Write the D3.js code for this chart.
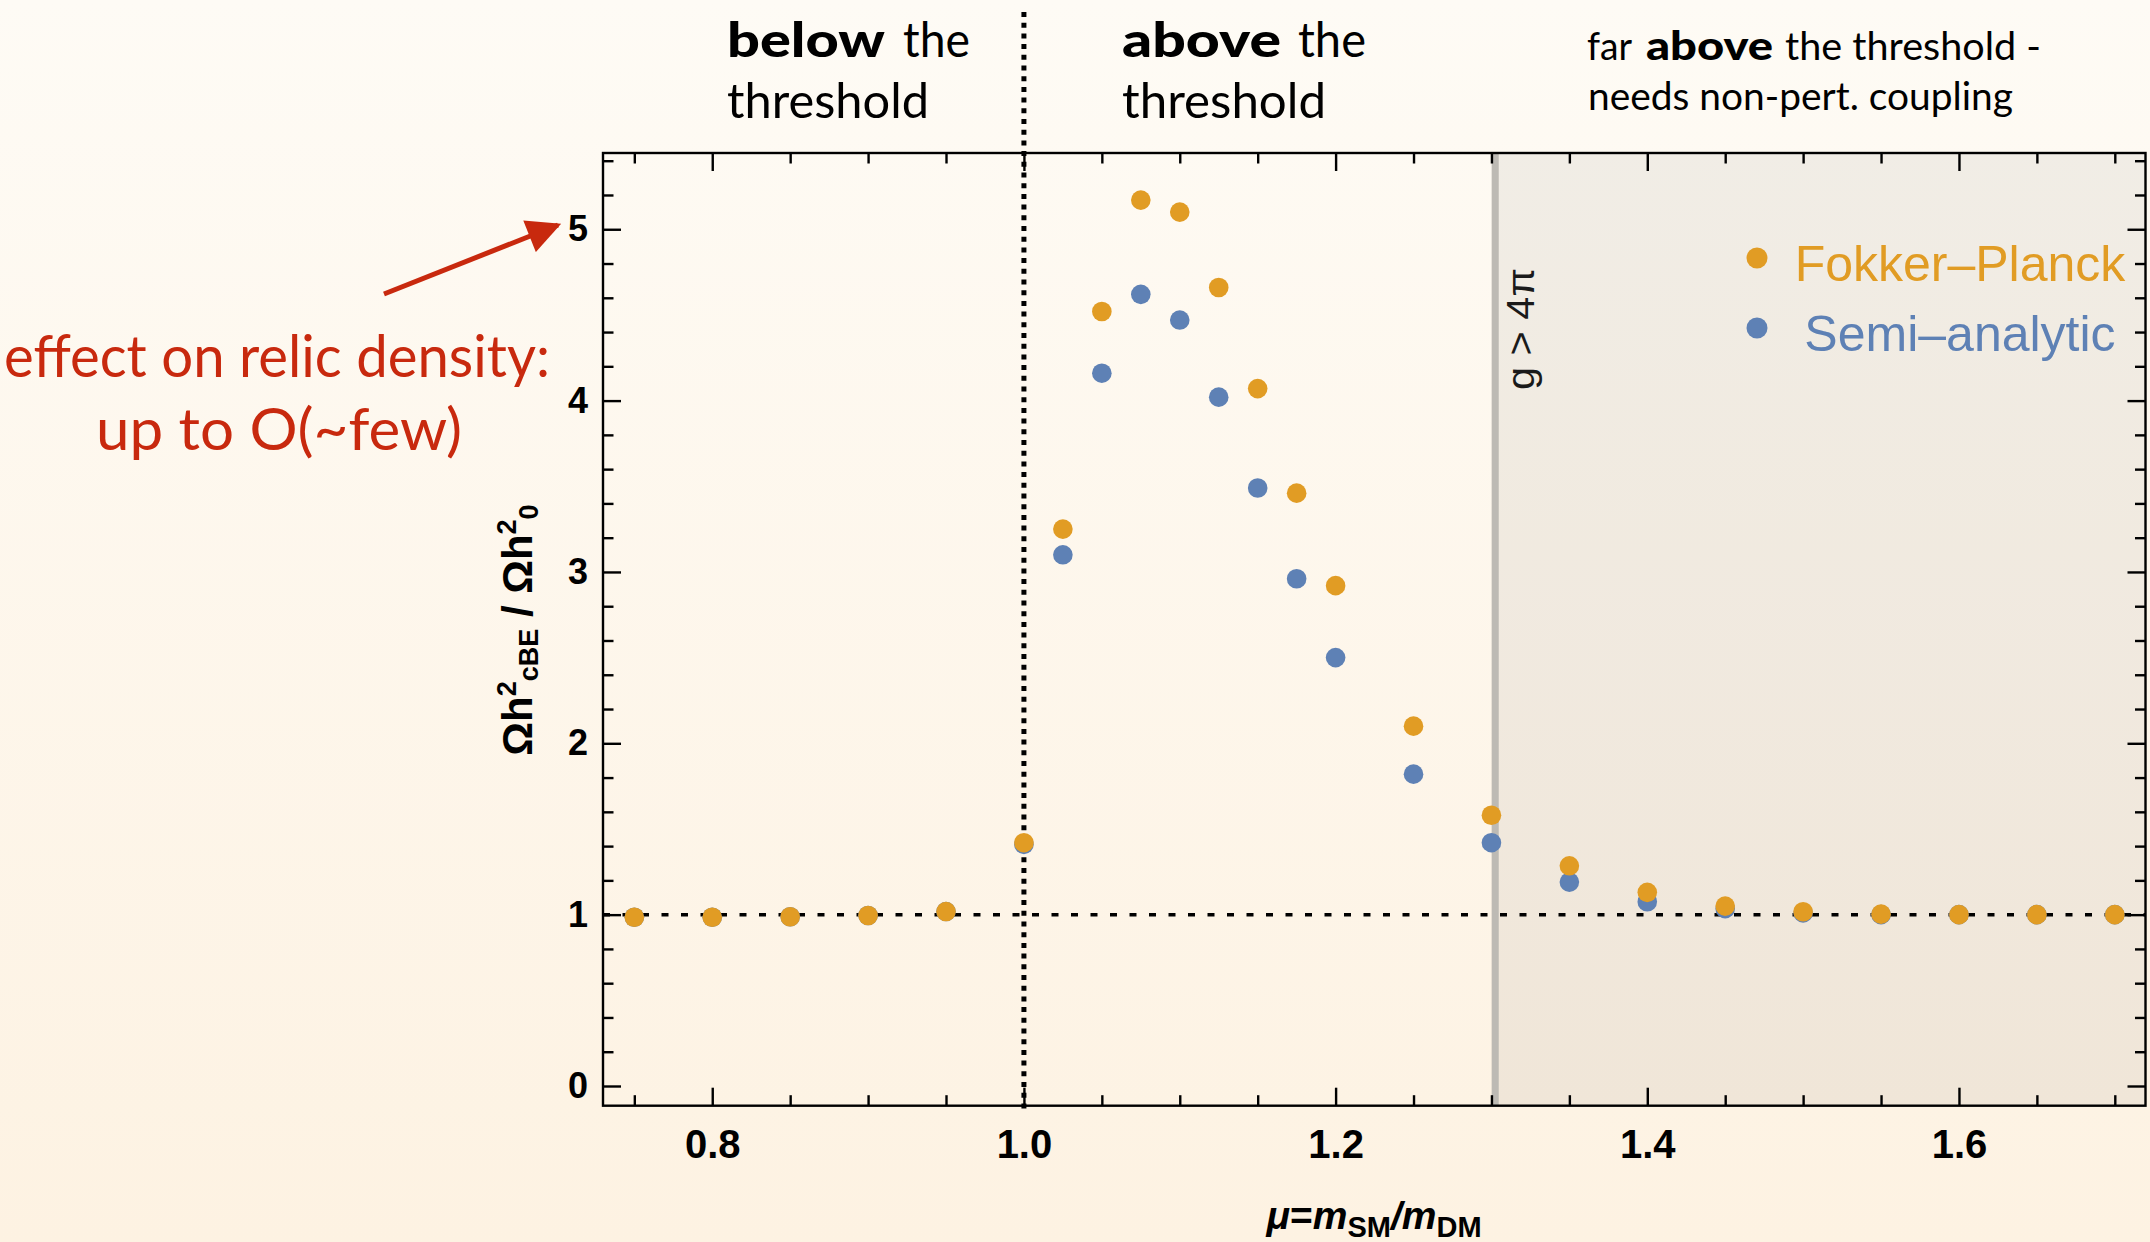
<!DOCTYPE html>
<html>
<head>
<meta charset="utf-8">
<script src="https://cdn.jsdelivr.net/npm/d3@7"></script>
<style>
  body { margin: 0; background: #fdf7ec; }
  svg { display: block; }
</style>
</head>
<body>
<div id="chart"></div>
<script>
// Canvas and plot frame
const width = 2150;
const height = 1242;
const plot = { left: 603, right: 2145.5, top: 153, bottom: 1105.7 };

// Axis ranges (Mathematica frame with ~2% padding)
const X_DOMAIN = [0.7299, 1.7197];
const Y_DOMAIN = [-0.115, 5.445];

// Data: mu = m_SM / m_DM and the relic density ratio for both methods
const muValues = [0.75, 0.8, 0.85, 0.9, 0.95, 1.0, 1.025, 1.05, 1.075, 1.1, 1.125, 1.15,
    1.175, 1.2, 1.25, 1.3, 1.35, 1.4, 1.45, 1.5, 1.55, 1.6, 1.65, 1.7];
const fokkerPlanck = [0.985, 0.985, 0.988, 0.995, 1.018, 1.42, 3.25, 4.52, 5.17, 5.10, 4.66, 4.07,
    3.46, 2.92, 2.10, 1.58, 1.285, 1.13, 1.05, 1.017, 1.003, 1.0, 1.0, 1.0];
const semiAnalytic = [0.985, 0.985, 0.988, 0.995, 1.018, 1.41, 3.10, 4.16, 4.62, 4.47, 4.02, 3.49,
    2.96, 2.50, 1.82, 1.42, 1.19, 1.075, 1.035, 1.01, 1.0, 1.0, 1.0, 1.0];

// Ticks
const xMajorTicks = [0.8, 1.0, 1.2, 1.4, 1.6];
const yMajorTicks = [0, 1, 2, 3, 4, 5];
const xMinorTicks = d3.range(15, 35).map(i => i * 0.05).filter(v => !xMajorTicks.some(t => Math.abs(t - v) < 1e-6));
const yMinorTicks = d3.range(0, 28).map(i => i * 0.2).filter(v => v <= Y_DOMAIN[1] && Math.abs(v - Math.round(v)) > 1e-6);

// Reference lines
const THRESHOLD_MU = 1.0;
const PERTURBATIVE_LIMIT_MU = 1.3;
const BASELINE_RATIO = 1;

// Series
const series = [
    { name: 'Semi\u2013analytic', values: semiAnalytic, colour: '#5e81b5' },
    { name: 'Fokker\u2013Planck', values: fokkerPlanck, colour: '#e19c24' }
];

const x = d3.scaleLinear().domain(X_DOMAIN).range([plot.left, plot.right]);
const y = d3.scaleLinear().domain(Y_DOMAIN).range([plot.bottom, plot.top]);

const svg = d3.select('#chart').append('svg')
    .attr('width', width)
    .attr('height', height);

const defs = svg.append('defs');

// Slide background gradient
const bg = defs.append('linearGradient')
    .attr('id', 'bg')
    .attr('x1', '0%').attr('y1', '0%')
    .attr('x2', '0%').attr('y2', '100%');
bg.append('stop').attr('offset', '0%').attr('stop-color', '#fefbf5');
bg.append('stop').attr('offset', '100%').attr('stop-color', '#fdf2e2');

defs.append('filter')
    .attr('id', 'blur')
    .attr('x', '-50%').attr('width', '200%')
    .append('feGaussianBlur')
    .attr('stdDeviation', 3);

defs.append('marker')
    .attr('id', 'arrowhead')
    .attr('markerUnits', 'userSpaceOnUse')
    .attr('viewBox', '0 0 10 10')
    .attr('refX', 9)
    .attr('refY', 5)
    .attr('markerWidth', 36)
    .attr('markerHeight', 34)
    .attr('orient', 'auto')
    .append('path')
    .attr('d', 'M0,0 L10,5 L0,10 Z')
    .attr('fill', '#c8290e');

svg.append('rect')
    .attr('width', width)
    .attr('height', height)
    .attr('fill', 'url(#bg)');

// Non-perturbative region shading
svg.append('rect')
    .attr('x', x(PERTURBATIVE_LIMIT_MU))
    .attr('y', plot.top)
    .attr('width', plot.right - x(PERTURBATIVE_LIMIT_MU))
    .attr('height', plot.bottom - plot.top)
    .attr('fill', '#000')
    .attr('fill-opacity', 0.052);

svg.append('line')
    .attr('x1', x(PERTURBATIVE_LIMIT_MU) + 3.8)
    .attr('x2', x(PERTURBATIVE_LIMIT_MU) + 3.8)
    .attr('y1', plot.top)
    .attr('y2', plot.bottom)
    .attr('stroke', '#bdbab4')
    .attr('stroke-width', 7);

svg.append('text')
    .attr('transform', `translate(${x(PERTURBATIVE_LIMIT_MU) + 43},390) rotate(-90)`)
    .attr('font-family', 'Liberation Sans, Arial, sans-serif')
    .attr('font-size', 39)
    .attr('fill', '#1a1a1a')
    .attr('textLength', 122)
    .attr('lengthAdjust', 'spacingAndGlyphs')
    .text('g > 4\u03c0');

// Horizontal reference at ratio = 1
svg.append('line')
    .attr('x1', plot.left)
    .attr('x2', plot.right)
    .attr('y1', y(BASELINE_RATIO))
    .attr('y2', y(BASELINE_RATIO))
    .attr('stroke', '#000')
    .attr('stroke-width', 3.5)
    .attr('stroke-dasharray', '7 12.5');

// Threshold line (mu = 1), with soft shadow
svg.append('line')
    .attr('x1', x(THRESHOLD_MU)).attr('x2', x(THRESHOLD_MU))
    .attr('y1', 12).attr('y2', 1114)
    .attr('stroke', '#8f8f8f')
    .attr('stroke-opacity', 0.6)
    .attr('stroke-width', 10)
    .attr('filter', 'url(#blur)');

// Axes: Mathematica style frame, ticks pointing inwards on all sides
function styleAxis(g) {
    g.select('.domain').remove();
    g.selectAll('line').attr('stroke', '#000').attr('stroke-width', 2.4);
}

const bottomMajor = svg.append('g')
    .attr('transform', `translate(0,${plot.bottom})`)
    .call(d3.axisBottom(x).tickValues(xMajorTicks).tickSizeInner(-18).tickSizeOuter(0)
        .tickPadding(24).tickFormat(d3.format('.1f')))
    .call(styleAxis);
bottomMajor.selectAll('text')
    .attr('font-family', 'Liberation Sans, Arial, sans-serif')
    .attr('font-weight', 'bold')
    .attr('font-size', 40)
    .attr('fill', '#000');

svg.append('g')
    .attr('transform', `translate(0,${plot.bottom})`)
    .call(d3.axisBottom(x).tickValues(xMinorTicks).tickSizeInner(-10.5).tickSizeOuter(0).tickFormat(''))
    .call(styleAxis);

svg.append('g')
    .attr('transform', `translate(0,${plot.top})`)
    .call(d3.axisTop(x).tickValues(xMajorTicks).tickSizeInner(-18).tickSizeOuter(0).tickFormat(''))
    .call(styleAxis);

svg.append('g')
    .attr('transform', `translate(0,${plot.top})`)
    .call(d3.axisTop(x).tickValues(xMinorTicks).tickSizeInner(-10.5).tickSizeOuter(0).tickFormat(''))
    .call(styleAxis);

const leftMajor = svg.append('g')
    .attr('transform', `translate(${plot.left},0)`)
    .call(d3.axisLeft(y).tickValues(yMajorTicks).tickSizeInner(-18).tickSizeOuter(0)
        .tickPadding(15).tickFormat(d3.format('d')))
    .call(styleAxis);
leftMajor.selectAll('text')
    .attr('font-family', 'Liberation Sans, Arial, sans-serif')
    .attr('font-weight', 'bold')
    .attr('font-size', 36)
    .attr('fill', '#000');

svg.append('g')
    .attr('transform', `translate(${plot.left},0)`)
    .call(d3.axisLeft(y).tickValues(yMinorTicks).tickSizeInner(-10.5).tickSizeOuter(0).tickFormat(''))
    .call(styleAxis);

svg.append('g')
    .attr('transform', `translate(${plot.right},0)`)
    .call(d3.axisRight(y).tickValues(yMajorTicks).tickSizeInner(-18).tickSizeOuter(0).tickFormat(''))
    .call(styleAxis);

svg.append('g')
    .attr('transform', `translate(${plot.right},0)`)
    .call(d3.axisRight(y).tickValues(yMinorTicks).tickSizeInner(-10.5).tickSizeOuter(0).tickFormat(''))
    .call(styleAxis);

// Frame
svg.append('rect')
    .attr('x', plot.left)
    .attr('y', plot.top)
    .attr('width', plot.right - plot.left)
    .attr('height', plot.bottom - plot.top)
    .attr('fill', 'none')
    .attr('stroke', '#000')
    .attr('stroke-width', 2.4);

// Dotted threshold line on top of the frame
svg.append('line')
    .attr('x1', x(THRESHOLD_MU)).attr('x2', x(THRESHOLD_MU))
    .attr('y1', 12).attr('y2', 1114)
    .attr('stroke', '#000')
    .attr('stroke-width', 5)
    .attr('stroke-dasharray', '5 5.7');

// Points
series.forEach(s => {
    svg.append('g')
        .selectAll('circle')
        .data(muValues.map((mu, i) => ({ mu, v: s.values[i] })))
        .enter()
        .append('circle')
        .attr('cx', d => x(d.mu))
        .attr('cy', d => y(d.v))
        .attr('r', 9.8)
        .attr('fill', s.colour);
});

// Legend
const legendItems = [series[1], series[0]];
const legend = svg.append('g');
legendItems.forEach((s, i) => {
    const ly = 258 + i * 70;
    legend.append('circle')
        .attr('cx', 1757)
        .attr('cy', ly)
        .attr('r', 10.5)
        .attr('fill', s.colour);
    legend.append('text')
        .attr('x', 1960)
        .attr('y', ly + 22.5)
        .attr('text-anchor', 'middle')
        .attr('font-family', 'Liberation Sans, Arial, sans-serif')
        .attr('font-size', 50)
        .attr('fill', s.colour)
        .text(s.name);
});

// Axis titles
const yTitle = svg.append('text')
    .attr('transform', `translate(532,630) rotate(-90)`)
    .attr('text-anchor', 'middle')
    .attr('font-family', 'Liberation Sans, Arial, sans-serif')
    .attr('font-weight', 'bold')
    .attr('font-size', 42)
    .attr('fill', '#000');
yTitle.append('tspan').text('\u03a9h');
yTitle.append('tspan').attr('font-size', 27).attr('dy', -16).text('2');
yTitle.append('tspan').attr('font-size', 27).attr('dy', 22).text('cBE');
yTitle.append('tspan').attr('dy', -6).text(' / \u03a9h');
yTitle.append('tspan').attr('font-size', 27).attr('dy', -16).text('2');
yTitle.append('tspan').attr('font-size', 27).attr('dy', 22).text('0');

const xTitle = svg.append('text')
    .attr('x', 1374)
    .attr('y', 1229)
    .attr('text-anchor', 'middle')
    .attr('font-family', 'Liberation Sans, Arial, sans-serif')
    .attr('font-weight', 'bold')
    .attr('font-size', 39)
    .attr('fill', '#000');
xTitle.append('tspan').attr('font-style', 'italic').text('\u03bc');
xTitle.append('tspan').text('=');
xTitle.append('tspan').attr('font-style', 'italic').text('m');
xTitle.append('tspan').attr('font-size', 29).attr('dy', 8).text('SM');
xTitle.append('tspan').attr('font-style', 'italic').attr('dy', -8).text('/m');
xTitle.append('tspan').attr('font-size', 29).attr('dy', 8).text('DM');

// Slide annotations (Gill Sans in the original, Lato squeezed to width here)
const slideFont = 'Lato, "Open Sans", sans-serif';
const headerPieces = [
    { text: 'below', x: 727, y: 57, w: 158, bold: true, size: 48 },
    { text: 'the', x: 903, y: 57, w: 67, bold: false, size: 48 },
    { text: 'threshold', x: 727, y: 118, w: 202, bold: false, size: 48 },
    { text: 'above', x: 1122, y: 57, w: 159, bold: true, size: 48 },
    { text: 'the', x: 1298, y: 57, w: 68, bold: false, size: 48 },
    { text: 'threshold', x: 1122, y: 118, w: 204, bold: false, size: 48 },
    { text: 'far', x: 1587, y: 60, w: 45, bold: false, size: 39 },
    { text: 'above', x: 1646, y: 60, w: 127, bold: true, size: 39 },
    { text: 'the threshold -', x: 1785, y: 60, w: 256, bold: false, size: 39 },
    { text: 'needs non-pert. coupling', x: 1588, y: 110, w: 425, bold: false, size: 39 }
];
svg.append('g')
    .selectAll('text')
    .data(headerPieces)
    .enter()
    .append('text')
    .attr('x', d => d.x)
    .attr('y', d => d.y)
    .attr('font-family', slideFont)
    .attr('font-weight', d => d.bold ? 900 : 400)
    .attr('font-size', d => d.size)
    .attr('textLength', d => d.w)
    .attr('lengthAdjust', 'spacingAndGlyphs')
    .attr('fill', '#000')
    .text(d => d.text);

const noteLines = [
    { text: 'effect on relic density:', x: 4, y: 377, w: 546 },
    { text: 'up to O(~few)', x: 96, y: 450, w: 366 }
];
svg.append('g')
    .selectAll('text')
    .data(noteLines)
    .enter()
    .append('text')
    .attr('x', d => d.x)
    .attr('y', d => d.y)
    .attr('font-family', slideFont)
    .attr('font-size', 58)
    .attr('textLength', d => d.w)
    .attr('lengthAdjust', 'spacingAndGlyphs')
    .attr('fill', '#c8290e')
    .text(d => d.text);

// Hand-drawn style arrow pointing at the peak value
svg.append('line')
    .attr('x1', 384).attr('y1', 294)
    .attr('x2', 558).attr('y2', 225)
    .attr('stroke', '#c8290e')
    .attr('stroke-width', 5)
    .attr('marker-end', 'url(#arrowhead)');
</script>
</body>
</html>
